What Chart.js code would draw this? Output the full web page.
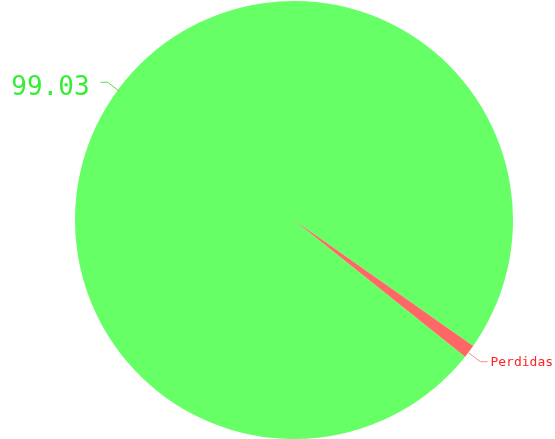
<!DOCTYPE html>
<html>
<head>
<meta charset="utf-8">
<script src="https://cdn.jsdelivr.net/npm/chart.js@4.4.0/dist/chart.umd.min.js"></script>
<style>
  html, body { margin: 0; padding: 0; background: #ffffff; }
  #wrap { width: 555px; height: 439px; }
</style>
</head>
<body>
<div id="wrap"><canvas id="grafico"></canvas></div>
<script>
// datos del pastel
const categorias = ["Aprovechada", "Perdidas"];
const valores = [99.03, 0.97];
const etiquetas = ["99.03", "Perdidas"];

const coloresRelleno = ["#66ff66", "#ff6666"];
const coloresTexto = ["#33ee33", "#ff2222"];
const coloresLinea = ["#55dd55", "#ff8888"];
const tamanoLetra = [26, 13];
const separacion = [11, 3];   // espacio entre la guia y el texto
const bajarTexto = [6, 1];    // ajuste vertical del texto

// dibuja la etiqueta afuera con su linea guia
const etiquetasFuera = {
  id: "etiquetasFuera",
  afterDatasetsDraw(chart) {
    const ctx = chart.ctx;
    const meta = chart.getDatasetMeta(0);
    meta.data.forEach((arco, i) => {
      const medio = (arco.startAngle + arco.endAngle) / 2;
      const r = arco.outerRadius;
      const cx = arco.x, cy = arco.y;
      const x0 = cx + Math.cos(medio) * (r - 1);
      const y0 = cy + Math.sin(medio) * (r - 1) + 2;
      const x1 = cx + Math.cos(medio) * (r + 14);
      const y1 = cy + Math.sin(medio) * (r + 14) + 2;
      const lado = Math.cos(medio) >= 0 ? 1 : -1;
      const x2 = x1 + lado * 7;

      ctx.save();
      ctx.strokeStyle = coloresLinea[i];
      ctx.lineWidth = 1;
      ctx.beginPath();
      ctx.moveTo(x0, y0);
      ctx.lineTo(x1, y1);
      ctx.lineTo(x2, y1);
      ctx.stroke();

      ctx.fillStyle = coloresTexto[i];
      ctx.font = tamanoLetra[i] + "px 'DejaVu Sans Mono', monospace";
      ctx.textBaseline = "middle";
      ctx.textAlign = lado > 0 ? "left" : "right";
      ctx.fillText(etiquetas[i], x2 + lado * separacion[i], y1 + bajarTexto[i]);
      ctx.restore();
    });
  }
};

new Chart(document.getElementById("grafico"), {
  type: "pie",
  data: {
    labels: categorias,
    datasets: [{
      data: valores,
      backgroundColor: coloresRelleno,
      borderWidth: 0
    }]
  },
  options: {
    responsive: true,
    maintainAspectRatio: false,
    animation: false,
    rotation: 128.6,
    layout: { padding: { left: 75, right: 42, top: 1, bottom: 0 } },
    plugins: {
      legend: { display: false },
      tooltip: { enabled: false }
    }
  },
  plugins: [etiquetasFuera]
});
</script>
</body>
</html>
